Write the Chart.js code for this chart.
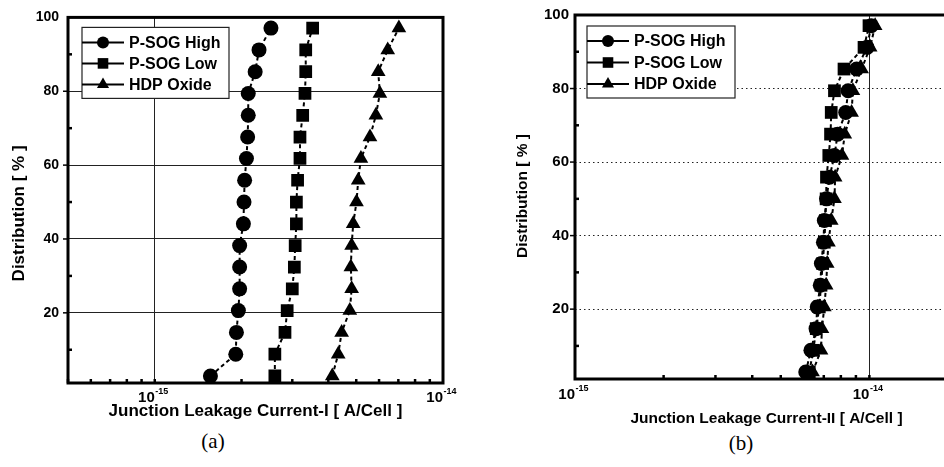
<!DOCTYPE html>
<html><head><meta charset="utf-8">
<script src="https://cdn.jsdelivr.net/npm/chart.js@4.4.1/dist/chart.umd.min.js"></script>
<style>
html,body{margin:0;padding:0;background:#fff;width:944px;height:467px;overflow:hidden;position:relative}
.wrap{position:absolute;top:0}
#wa{left:0;width:470px;height:422px}
#wb{left:470px;width:497px;height:428px}
.cap{position:absolute;width:60px;text-align:center;font-family:"Liberation Serif","DejaVu Serif",serif;font-size:21px;color:#000;line-height:24px}
</style></head><body>
<div class="wrap" id="wa"><canvas id="ca"></canvas></div>
<div class="wrap" id="wb"><canvas id="cb"></canvas></div>
<div class="cap" style="left:183px;top:429px">(a)</div>
<div class="cap" style="left:711px;top:431px">(b)</div>
<script>
// ---- data ----
const seriesNames = ['P-SOG High', 'P-SOG Low', 'HDP Oxide'];
const distribution = [2.9, 8.8, 14.7, 20.6, 26.5, 32.4, 38.2, 44.1, 50.0, 55.9, 61.8, 67.6, 73.5, 79.4, 85.3, 91.2, 97.1];

// panel (a): Junction Leakage Current-I [A/Cell]
const leakI_high = [1.56e-15, 1.91e-15, 1.92e-15, 1.95e-15, 1.97e-15, 1.97e-15, 1.97e-15, 2.03e-15, 2.04e-15, 2.05e-15, 2.08e-15, 2.10e-15, 2.11e-15, 2.11e-15, 2.23e-15, 2.30e-15, 2.53e-15];
const leakI_low  = [2.61e-15, 2.61e-15, 2.83e-15, 2.88e-15, 3.00e-15, 3.05e-15, 3.07e-15, 3.10e-15, 3.10e-15, 3.13e-15, 3.19e-15, 3.19e-15, 3.26e-15, 3.32e-15, 3.34e-15, 3.34e-15, 3.53e-15];
const leakI_hdp  = [4.13e-15, 4.33e-15, 4.45e-15, 4.75e-15, 4.82e-15, 4.79e-15, 4.82e-15, 4.88e-15, 5.01e-15, 5.08e-15, 5.19e-15, 5.58e-15, 5.85e-15, 6.04e-15, 5.96e-15, 6.43e-15, 7.03e-15];

// panel (b): Junction Leakage Current-II [A/Cell]
const leakII_high = [6.08e-15, 6.33e-15, 6.59e-15, 6.65e-15, 6.81e-15, 6.87e-15, 6.98e-15, 7.03e-15, 7.15e-15, 7.32e-15, 7.61e-15, 7.80e-15, 8.31e-15, 8.47e-15, 9.05e-15, 9.82e-15, 1.014e-14];
const leakII_low  = [6.25e-15, 6.45e-15, 6.60e-15, 6.76e-15, 6.85e-15, 6.94e-15, 7.03e-15, 7.09e-15, 7.13e-15, 7.15e-15, 7.28e-15, 7.38e-15, 7.42e-15, 7.61e-15, 8.20e-15, 9.59e-15, 9.97e-15];
const leakII_hdp  = [6.41e-15, 6.85e-15, 6.90e-15, 7.03e-15, 7.13e-15, 7.19e-15, 7.26e-15, 7.42e-15, 7.61e-15, 7.65e-15, 8.07e-15, 8.25e-15, 8.70e-15, 8.79e-15, 9.41e-15, 1.006e-14, 1.046e-14];

// ticks and titles
const yTicks = [20, 40, 60, 80, 100];
const yMinorTicks = [10, 30, 50, 70, 90];
const xMajorTicksI = [1e-15, 1e-14];
const xMinorTicksI = [5e-16, 6e-16, 7e-16, 8e-16, 9e-16, 1e-15, 2e-15, 3e-15, 4e-15, 5e-15, 6e-15, 7e-15, 8e-15, 9e-15];
const xMajorTicksII = [1e-15, 1e-14];
const xMinorTicksII = [2e-15, 3e-15, 4e-15, 5e-15, 6e-15, 7e-15, 8e-15, 9e-15, 1e-14];
const xTickBase = '10';
const xTickExp = {'1e-15': '-15', '1e-14': '-14'};
const yTitle = 'Distribution [ % ]';
const xTitleI = 'Junction Leakage Current-I [ A/Cell ]';
const xTitleII = 'Junction Leakage Current-II [ A/Cell ]';

// ---- styles ----
const markerStyles = [
  {pointStyle: 'circle', radius: 7.5, legendRadius: 6},
  {pointStyle: 'rect', radius: 9, legendRadius: 7.5},
  {pointStyle: 'triangle', radius: 8.5, legendRadius: 7}
];
const SANS = '"Liberation Sans", Arial, "DejaVu Sans", sans-serif';

function makePaperPlugin(cfg) {
  return {
    id: 'paper_' + cfg.id,
    afterDatasetsDraw(chart) {
      const ctx = chart.ctx, a = chart.chartArea;
      const xs = chart.scales.x, ys = chart.scales.y;
      ctx.save();
      ctx.setLineDash([]);
      ctx.strokeStyle = '#000';
      // outward major y tick marks
      ctx.lineWidth = 1.5;
      yTicks.forEach(v => {
        if (v >= 100) return;
        const y = ys.getPixelForValue(v);
        ctx.beginPath(); ctx.moveTo(a.left - 5, y); ctx.lineTo(a.left, y); ctx.stroke();
      });
      // inward minor y tick marks
      ctx.lineWidth = 2.5;
      yMinorTicks.forEach(v => {
        const y = ys.getPixelForValue(v);
        ctx.beginPath(); ctx.moveTo(a.left, y); ctx.lineTo(a.left + 4, y); ctx.stroke();
      });
      // inward minor x tick marks
      cfg.xMinor.forEach(v => {
        const x = xs.getPixelForValue(v);
        ctx.beginPath(); ctx.moveTo(x, a.bottom); ctx.lineTo(x, a.bottom - 4); ctx.stroke();
      });
      // frame
      ctx.lineWidth = 3;
      ctx.strokeRect(a.left, a.top, a.right - a.left, a.bottom - a.top);
      // x tick labels 10^n
      ctx.fillStyle = '#000';
      ctx.textBaseline = 'alphabetic';
      cfg.xMajor.forEach(v => {
        const x = xs.getPixelForValue(v);
        const yl = a.bottom + cfg.labelOffset;
        ctx.font = 'bold ' + cfg.xTickFont + 'px ' + SANS;
        ctx.textAlign = 'right';
        ctx.fillText(xTickBase, x, yl);
        ctx.font = 'bold ' + Math.round(cfg.xTickFont * 0.62) + 'px ' + SANS;
        ctx.textAlign = 'left';
        ctx.fillText(xTickExp[String(v)] || '', x + 0.5, yl - Math.round(cfg.xTickFont * 0.5));
      });
      // y title
      ctx.save();
      ctx.translate(cfg.yTitleX, a.top + cfg.yTitleDy);
      ctx.rotate(-Math.PI / 2);
      ctx.font = 'bold ' + cfg.titleFont + 'px ' + SANS;
      ctx.textAlign = 'center';
      ctx.textBaseline = 'middle';
      ctx.fillText(yTitle, 0, 0);
      ctx.restore();
      // legend
      const L = cfg.legend;
      const bx = a.left + L.dx, by = a.top + L.dy;
      ctx.fillStyle = '#fff';
      ctx.fillRect(bx, by, L.w, L.h);
      ctx.lineWidth = 1.2;
      ctx.strokeStyle = '#222';
      ctx.strokeRect(bx, by, L.w, L.h);
      chart.data.datasets.forEach((ds, i) => {
        const yy = by + L.row0 + i * L.rowStep;
        ctx.strokeStyle = '#000';
        ctx.lineWidth = 2;
        ctx.beginPath(); ctx.moveTo(bx, yy); ctx.lineTo(bx + L.lineLen, yy); ctx.stroke();
        ctx.fillStyle = '#000';
        Chart.helpers.drawPoint(ctx, {pointStyle: ds.pointStyle, radius: markerStyles[i].legendRadius, rotation: 0, borderWidth: 0}, bx + L.lineLen / 2, yy);
        ctx.fillStyle = '#000';
        ctx.font = 'bold ' + L.font + 'px ' + SANS;
        ctx.textAlign = 'left';
        ctx.textBaseline = 'middle';
        ctx.fillText(ds.label, bx + L.lineLen + 5, yy + 1);
      });
      ctx.restore();
    }
  };
}

function makeChart(id, cfg) {
  cfg.id = id;
  const datasets = cfg.series.map((xs, i) => ({
    label: seriesNames[i],
    data: xs.map((x, k) => ({x: x, y: distribution[k]})),
    showLine: true,
    borderColor: '#000',
    borderWidth: 2,
    borderDash: [4, 3],
    pointStyle: markerStyles[i].pointStyle,
    pointRadius: markerStyles[i].radius,
    pointBackgroundColor: '#000',
    pointBorderColor: '#000',
    pointBorderWidth: 0,
    tension: 0
  }));
  return new Chart(document.getElementById(id), {
    type: 'scatter',
    data: {datasets},
    plugins: [makePaperPlugin(cfg)],
    options: {
      responsive: true, maintainAspectRatio: false, animation: false, devicePixelRatio: 1,
      layout: {padding: cfg.padding},
      plugins: {legend: {display: false}, tooltip: {enabled: false}},
      scales: {
        x: {
          type: 'logarithmic', min: cfg.xMin, max: cfg.xMax,
          afterBuildTicks: s => { s.ticks = cfg.xMajor.map(v => ({value: v})); },
          afterFit: s => { s.height = cfg.xHeight; },
          ticks: {display: false},
          grid: {drawTicks: false, lineWidth: 1,
                 color: c => (c.tick && c.tick.value === cfg.xGridAt) ? '#222' : 'rgba(0,0,0,0)'},
          border: {display: false},
          title: {display: true, text: cfg.xTitle, color: '#000', padding: 0,
                  font: {family: SANS, size: cfg.titleFont, weight: 'bold'}}
        },
        y: {
          type: 'linear', min: 1, max: 100,
          afterBuildTicks: s => { s.ticks = yTicks.map(v => ({value: v})); },
          afterFit: s => { s.width = cfg.yWidth; },
          ticks: {color: '#000', padding: cfg.yTickPad, font: {family: SANS, size: cfg.tickFont, weight: 'bold'},
                  callback: v => String(v)},
          grid: {drawTicks: false, lineWidth: 1,
                 color: c => (c.tick && c.tick.value < 100) ? '#222' : 'rgba(0,0,0,0)'},
          border: {display: false, dash: cfg.yDash},
          title: {display: false}
        }
      }
    }
  });
}

makeChart('ca', {
  series: [leakI_high, leakI_low, leakI_hdp],
  xMin: 5e-16, xMax: 1e-14, xMajor: xMajorTicksI, xMinor: xMinorTicksI, xGridAt: 1e-15,
  xTitle: xTitleI,
  padding: {left: 8, top: 16, right: 27, bottom: 0},
  yWidth: 60, xHeight: 39, tickFont: 14, xTickFont: 15, titleFont: 17, yTickPad: 9, labelOffset: 19,
  yTitleX: 19, yTitleDy: 196,
  yDash: [],
  legend: {dx: 14, dy: 10, w: 147, h: 71, row0: 15, rowStep: 21, lineLen: 42, font: 16}
});

makeChart('cb', {
  series: [leakII_high, leakII_low, leakII_hdp],
  xMin: 1e-15, xMax: 2e-14, xMajor: xMajorTicksII, xMinor: xMinorTicksII, xGridAt: 1e-14,
  xTitle: xTitleII,
  padding: {left: 44, top: 13, right: 0, bottom: 0},
  yWidth: 61, xHeight: 49, tickFont: 15, xTickFont: 15, titleFont: 15.5, yTickPad: 6, labelOffset: 20,
  yTitleX: 53, yTitleDy: 181,
  yDash: [1.5, 3],
  legend: {dx: 12, dy: 11, w: 148, h: 72, row0: 15, rowStep: 21.5, lineLen: 42, font: 16}
});
</script>
</body></html>
